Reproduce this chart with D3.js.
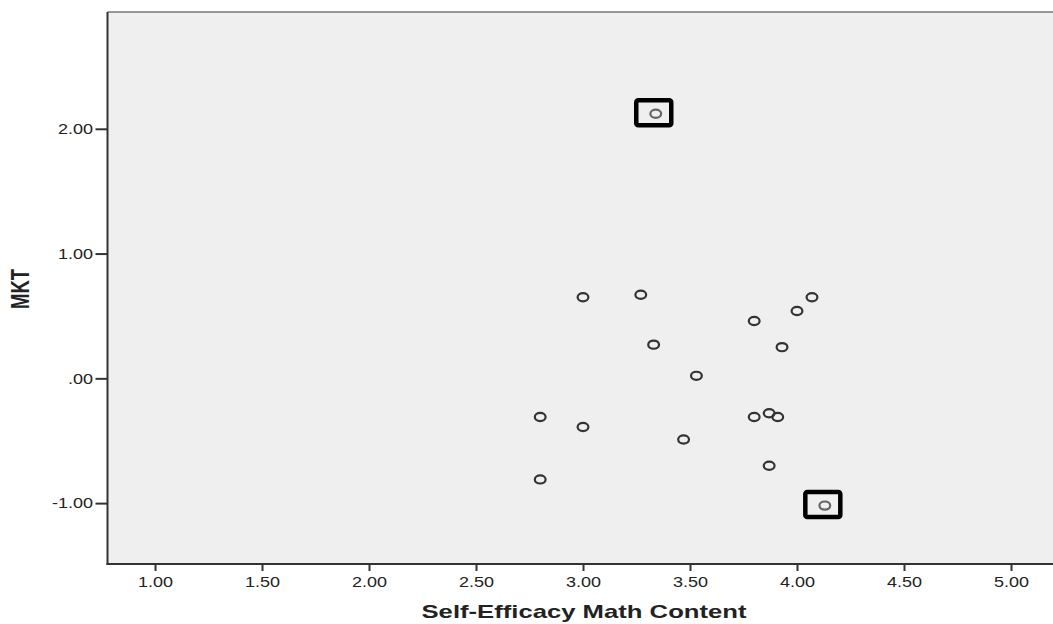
<!DOCTYPE html>
<html><head><meta charset="utf-8">
<script src="https://cdn.jsdelivr.net/npm/d3@7"></script>
<style>body{margin:0;background:#fff;}svg{display:block;font-family:"Liberation Sans",Arial,sans-serif;}</style>
</head><body>
<svg id="c" width="1053" height="624"></svg>
<script>
const selfEfficacy = [3.00, 3.27, 4.07, 4.00, 3.80, 3.33, 3.93, 3.53, 2.80, 3.00, 3.47, 3.80, 3.87, 3.91, 3.87, 2.80, 3.34, 4.13];
const mkt =          [0.65, 0.67, 0.65, 0.54, 0.46, 0.27, 0.25, 0.02, -0.31, -0.39, -0.49, -0.31, -0.28, -0.31, -0.70, -0.81, 2.12, -1.02];
const flagged =      [0,0,0,0,0,0,0,0,0,0,0,0,0,0,0,0,1,1];
const xTicks = [1.00, 1.50, 2.00, 2.50, 3.00, 3.50, 4.00, 4.50, 5.00];
const xTickLabels = ["1.00","1.50","2.00","2.50","3.00","3.50","4.00","4.50","5.00"];
const yTicks = [2, 1, 0, -1];
const yTickLabels = ["2.00","1.00",".00","-1.00"];

const svg = d3.select("#c");
const L = 107.5, T = 12, R = 1060, B = 564;
const SX = 1.2;
const x = d3.scaleLinear().domain([0.778, 1 + (R-155)/214]).range([L, R]);
const y = d3.scaleLinear().domain([-1.488, 2.936]).range([B, T]);

svg.append("rect").attr("x", L).attr("y", T).attr("width", R-L).attr("height", B-T).attr("fill", "#efefef");
svg.append("line").attr("x1", L).attr("x2", R).attr("y1", T).attr("y2", T).attr("stroke", "#777").attr("stroke-width", 1.5);

const xAxis = svg.append("g").attr("transform", `translate(0,${B})`)
  .call(d3.axisBottom(x).tickValues(xTicks).tickFormat((d,i)=>xTickLabels[i]).tickSize(7).tickSizeOuter(0));
const yAxis = svg.append("g").attr("transform", `translate(${L},0)`)
  .call(d3.axisLeft(y).tickValues(yTicks).tickFormat((d,i)=>yTickLabels[i]).tickSize(12).tickSizeOuter(0));
[xAxis, yAxis].forEach(a => {
  a.select(".domain").attr("stroke", "#333").attr("stroke-width", 2);
  a.selectAll(".tick line").attr("stroke", "#333").attr("stroke-width", 2);
  a.selectAll(".tick text").attr("fill", "#222").style("font-size", "15px")
    .attr("transform", `scale(${SX},1)`);
});
xAxis.selectAll(".tick text").attr("dy", "0.71em").attr("y", 12);
yAxis.selectAll(".tick text").attr("x", -14.5/SX);
yAxis.select(".domain").attr("d", `M0,${T}V${B+1}`);
xAxis.select(".domain").attr("d", `M${L-1},0H${R}`);

const pts = selfEfficacy.map((v,i)=>({x:v, y:mkt[i], f:flagged[i]}));
svg.append("g").selectAll("ellipse").data(pts).join("ellipse")
  .attr("cx", d=>x(d.x)).attr("cy", d=>y(d.y)).attr("rx", 5.4).attr("ry", 4.1)
  .attr("fill", "none").attr("stroke", d=>d.f?"#666":"#333").attr("stroke-width", 2.2);

svg.append("g").selectAll("rect").data(pts.filter(d=>d.f)).join("rect")
  .attr("x", d=>x(d.x)-19.5).attr("y", d=>y(d.y)-13.5).attr("width", 35).attr("height", 25)
  .attr("rx", 2).attr("fill", "none").attr("stroke", "#000").attr("stroke-width", 4.5);

svg.append("text").attr("x", 584).attr("y", 618).attr("text-anchor", "middle")
  .attr("textLength", 325).attr("lengthAdjust", "spacingAndGlyphs")
  .style("font-size", "18.5px").style("font-weight", "bold").attr("fill", "#222").text("Self-Efficacy Math Content");
svg.append("text").attr("transform", "translate(29,289) rotate(-90)").attr("text-anchor", "middle")
  .attr("textLength", 40).attr("lengthAdjust", "spacingAndGlyphs")
  .style("font-size", "25px").style("font-weight", "bold").attr("fill", "#222").text("MKT");
</script>
</body></html>
